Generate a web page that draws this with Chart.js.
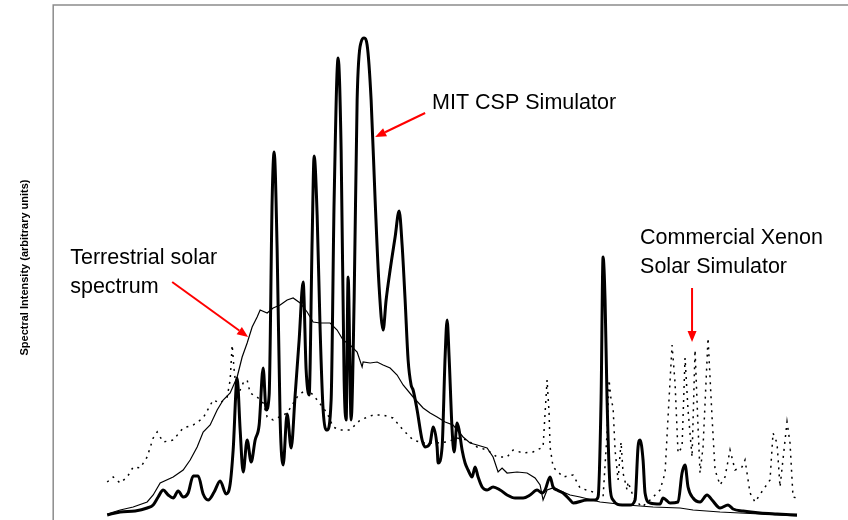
<!DOCTYPE html>
<html>
<head>
<meta charset="utf-8">
<script src="https://cdn.jsdelivr.net/npm/chart.js@4/dist/chart.umd.min.js"></script>
<style>
  html, body { margin: 0; padding: 0; background: #fff; overflow: hidden; }
  #wrap { width: 848px; height: 520px; overflow: hidden; }
</style>
</head>
<body>
<div id="wrap"><canvas id="chart1" width="880" height="530"></canvas></div>
<script>
// wavelength (nm) / intensity (arbitrary units)
const mitNm = [302, 315, 330, 342, 348, 353, 358, 363, 368, 373, 378, 383, 388, 393, 398, 403, 409, 415, 421, 425,
    428, 432, 435, 438, 442, 446, 450, 454, 458, 461, 464, 467, 469, 472, 475, 478, 482, 486, 490, 494,
    498, 501, 504, 507, 509, 512, 515, 518, 522, 526, 529, 533, 536, 539, 541, 543, 546, 549, 552, 556,
    559, 562, 566, 570, 574, 578, 581, 585, 590, 594, 597, 600, 603, 606, 608, 612, 617, 620, 625, 628,
    632, 633, 637, 640, 642, 644, 647, 649, 652, 654, 657, 660, 663, 667, 670, 673, 677, 682, 688, 695,
    702, 710, 718, 725, 732, 737, 740, 745, 748, 752, 758, 765, 768, 782, 790, 793, 796, 798, 800, 802,
    805, 808, 817, 825, 830, 833, 835, 838, 840, 845, 855, 858, 861, 865, 873, 877, 880, 883, 888, 895,
    902, 907, 915, 923, 928, 938, 955, 972, 992]
const mitVal = [15, 18, 19, 22, 25, 33, 40, 35, 32, 39, 33, 37, 54, 54, 36, 30, 38, 49, 36, 46,
    80, 152, 100, 58, 90, 68, 90, 105, 162, 120, 135, 330, 378, 280, 110, 65, 116, 82, 135, 190,
    248, 160, 135, 290, 374, 315, 200, 120, 100, 130, 330, 472, 380, 150, 110, 253, 110, 230, 430, 488,
    492, 485, 430, 330, 243, 200, 230, 260, 293, 319, 285, 230, 170, 145, 140, 120, 90, 83, 87, 103,
    83, 67, 83, 173, 210, 173, 100, 78, 107, 100, 80, 67, 60, 53, 63, 53, 43, 40, 43, 40,
    35, 32, 32, 35, 40, 37, 40, 53, 43, 40, 37, 30, 27, 30, 30, 33, 130, 273, 230, 130,
    43, 30, 25, 25, 30, 83, 90, 70, 37, 27, 26, 32, 30, 27, 28, 57, 65, 43, 32, 28,
    35, 30, 22, 25, 21, 19, 17, 16, 15]

const solarNm = [302, 315, 328, 342, 348, 355, 368, 378, 385, 392, 398, 405, 412, 418, 425, 432, 437, 442, 447, 452,
    455, 462, 468, 475, 482, 488, 495, 502, 508, 515, 525, 532, 538, 545, 552, 557, 558, 565, 572, 578,
    585, 592, 598, 608, 618, 625, 632, 640, 648, 658, 665, 672, 682, 688, 693, 697, 702, 712, 722, 730,
    735, 738, 742, 748, 758, 765, 775, 795, 822, 848, 875, 888, 915, 955, 992]
const solarVal = [16, 20, 23, 28, 35, 47, 53, 60, 70, 83, 98, 105, 120, 130, 137, 153, 173, 187, 203, 213,
    220, 217, 222, 225, 230, 232, 227, 218, 208, 207, 207, 200, 190, 185, 178, 163, 168, 167, 168, 165,
    162, 155, 145, 133, 122, 117, 113, 108, 105, 93, 87, 85, 82, 73, 58, 62, 57, 58, 57, 52,
    45, 30, 40, 42, 38, 35, 33, 28, 25, 23, 22, 20, 18, 16, 14]

const xenonNm = [302, 308, 315, 322, 328, 335, 342, 348, 352, 358, 368, 378, 388, 398, 408, 415, 422, 425, 427, 429,
    432, 438, 442, 445, 452, 458, 462, 468, 482, 492, 502, 512, 522, 528, 535, 545, 555, 568, 578, 588,
    598, 608, 618, 632, 642, 652, 662, 672, 682, 692, 702, 708, 718, 728, 738, 740, 742, 744, 745, 748,
    758, 768, 775, 788, 798, 802, 804, 806, 808, 810, 813, 816, 818, 822, 823, 827, 830, 837, 845, 855,
    860, 863, 867, 870, 873, 877, 880, 883, 887, 890, 893, 895, 898, 903, 907, 910, 915, 920, 925, 930,
    937, 940, 945, 950, 958, 965, 968, 972, 975, 982, 985, 988, 992]
const xenonVal = [48, 53, 47, 53, 63, 62, 73, 92, 98, 88, 90, 102, 105, 112, 130, 127, 133, 150, 185, 160,
    133, 147, 150, 137, 133, 127, 113, 110, 117, 133, 142, 130, 117, 103, 100, 100, 110, 115, 115, 112,
    100, 90, 87, 87, 88, 92, 90, 83, 80, 73, 73, 80, 77, 78, 83, 117, 150, 117, 83, 63,
    53, 55, 42, 38, 33, 97, 150, 130, 123, 80, 50, 88, 57, 40, 48, 37, 30, 23, 30, 40,
    57, 113, 185, 147, 77, 83, 172, 120, 73, 180, 103, 57, 83, 192, 113, 60, 45, 53, 80, 60,
    63, 70, 37, 28, 40, 50, 97, 87, 43, 108, 87, 33, 32]

// callout texts and arrows, in data units
const notes = [
    {lines: ["MIT CSP Simulator"], nm: 627, val: 427},
    {lines: ["Terrestrial solar", "spectrum"], nm: 265, val: 272},
    {lines: ["Commercial Xenon", "Solar Simulator"], nm: 835, val: 292}
]
const arrows = [
    {from: [620, 417], to: [570, 393]},
    {from: [367, 248], to: [443, 193]},
    {from: [887, 242], to: [887, 188]}
]

const toPoints = (xs, ys) => xs.map((x, i) => ({x, y: ys[i]}))

const frameAndNotes = {
    id: 'frameAndNotes',
    afterDatasetsDraw(chart) {
        const {ctx, chartArea, scales} = chart
        ctx.save()
        ctx.strokeStyle = '#8c8c8c'
        ctx.lineWidth = 1.5
        ctx.beginPath()
        ctx.moveTo(chartArea.left, chartArea.bottom)
        ctx.lineTo(chartArea.left, chartArea.top)
        ctx.lineTo(chartArea.right, chartArea.top)
        ctx.stroke()

        ctx.fillStyle = '#000'
        ctx.font = '21.5px "Liberation Sans", Arial, sans-serif'
        ctx.textBaseline = 'middle'
        notes.forEach(n => {
            const x = scales.x.getPixelForValue(n.nm)
            const y = scales.y.getPixelForValue(n.val)
            n.lines.forEach((t, i) => ctx.fillText(t, x, y + i * 29))
        })

        ctx.strokeStyle = '#ff0000'
        ctx.fillStyle = '#ff0000'
        ctx.lineWidth = 2
        arrows.forEach(a => {
            const x1 = scales.x.getPixelForValue(a.from[0]), y1 = scales.y.getPixelForValue(a.from[1])
            const x2 = scales.x.getPixelForValue(a.to[0]), y2 = scales.y.getPixelForValue(a.to[1])
            const ang = Math.atan2(y2 - y1, x2 - x1)
            const len = 11, half = 4.5
            const bx = x2 - len * Math.cos(ang), by = y2 - len * Math.sin(ang)
            ctx.beginPath()
            ctx.moveTo(x1, y1)
            ctx.lineTo(bx, by)
            ctx.stroke()
            ctx.beginPath()
            ctx.moveTo(x2, y2)
            ctx.lineTo(bx + half * Math.sin(ang), by - half * Math.cos(ang))
            ctx.lineTo(bx - half * Math.sin(ang), by + half * Math.cos(ang))
            ctx.closePath()
            ctx.fill()
        })
        ctx.restore()
    }
}

const chart1 = document.getElementById('chart1').getContext('2d')
new Chart(chart1, {
    type: 'line',
    data: {
        datasets: [{
            label: 'Commercial Xenon Solar Simulator',
            data: toPoints(xenonNm, xenonVal),
            borderColor: '#000',
            borderWidth: 1.5,
            borderDash: [2, 5],
            pointRadius: 0,
            tension: 0
        }, {
            label: 'Terrestrial solar spectrum',
            data: toPoints(solarNm, solarVal),
            borderColor: '#000',
            borderWidth: 1.2,
            pointRadius: 0,
            tension: 0
        }, {
            label: 'MIT CSP Simulator',
            data: toPoints(mitNm, mitVal),
            borderColor: '#000',
            borderWidth: 3,
            pointRadius: 0,
            cubicInterpolationMode: 'monotone'
        }]
    },
    options: {
        responsive: false,
        animation: false,
        devicePixelRatio: 1,
        layout: {padding: {top: 5, left: 0, right: 0, bottom: 0}},
        plugins: {legend: {display: false}, tooltip: {enabled: false}},
        scales: {
            x: {type: 'linear', min: 248, max: 1075, display: false},
            y: {
                min: 0, max: 525,
                grid: {display: false},
                border: {display: false},
                ticks: {display: false},
                title: {
                    display: true,
                    text: 'Spectral Intensity (arbitrary units)',
                    color: '#000',
                    font: {family: '"Liberation Sans", Arial, sans-serif', size: 11, weight: 'bold'},
                    padding: {top: 18, bottom: 14}
                }
            }
        }
    },
    plugins: [frameAndNotes]
})
</script>
</body>
</html>
